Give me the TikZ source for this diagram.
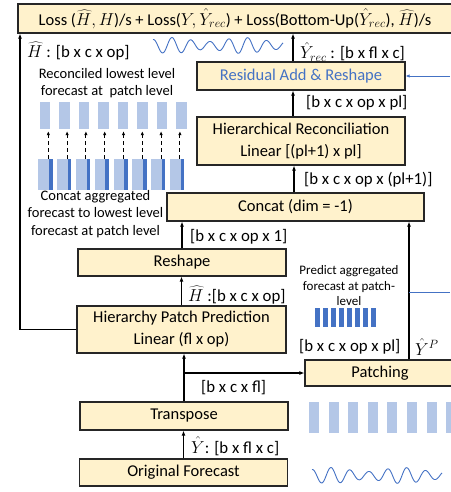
\documentclass[tikz,border=0pt]{standalone}
\usepackage{fontspec}
\setmainfont{Carlito}
\usetikzlibrary{arrows.meta,positioning}
\definecolor{boxfill}{HTML}{FFF2CC}
\definecolor{lightbar}{HTML}{B4C7E7}
\definecolor{darkbar}{HTML}{4472C4}
\newcommand{\hatH}{\ensuremath{\widehat{H}}}
\newcommand{\hatY}{\ensuremath{\hat{Y}}}

\begin{document}
\begin{tikzpicture}[x=1pt,y=-1pt,
  block/.style={rectangle,draw=black!85,fill=boxfill,line width=1.2pt,minimum width=208pt,font=\fontsize{16.5}{22}\selectfont,align=center,inner sep=0pt},
  dims/.style={font=\fontsize{16.8}{19}\selectfont,inner sep=0pt,anchor=west},
  note/.style={font=\fontsize{14.5}{17.5}\selectfont,align=center,inner sep=0pt},
  flow/.style={-{Latex[length=5pt,width=4pt]},line width=1.2pt},
  bar/.style={fill=lightbar,inner sep=0pt}]

  \useasboundingbox (0,0) rectangle (450,492);

  % processing blocks
  \node[block, minimum width=434pt, minimum height=29pt] (loss) at (235,18.5) {Loss (\hatH$,H$)/s + Loss($Y,\hat{Y}_{rec}$) + Loss(Bottom-Up($\hat{Y}_{rec}$), \hatH)/s};
  \node[block, minimum height=28pt, text=darkbar] (resid) at (301,76) {Residual Add \& Reshape};
  \node[block, minimum height=48pt] (recon) at (301,141) {Hierarchical Reconciliation\\Linear [(pl+1) x pl]};
  \node[block, minimum width=257pt, minimum height=28pt] (concat) at (295.5,207) {Concat (dim = -1)};
  \node[block, minimum height=27pt] (reshape) at (182,262.5) {Reshape};
  \node[block, minimum width=209pt, minimum height=47pt] (hpp) at (181.5,329.5) {Hierarchy Patch Prediction\\Linear (fl x op)};
  \node[block, minimum width=150pt, minimum height=26pt] (patch) at (380,373) {Patching};
  \node[block, minimum height=28pt] (transpose) at (184,416) {Transpose};
  \node[block, minimum height=27pt] (orig) at (183.5,472.5) {Original Forecast};

  % tensor shapes
  \node[dims] (hout) at (27,51) {\hatH\ : [b x c x op]};
  \node[dims] (yrec) at (300,52) {$\hat{Y}_{rec}$ : [b x fl x c]};
  \node[dims] (reconout) at (306,103) {[b x c x op x pl]};
  \node[dims] (concatout) at (304,180) {[b x c x op x (pl+1)]};
  \node[dims] (reshapeout) at (190,237) {[b x c x op x 1]};
  \node[dims] (hppout) at (188,295) {\hatH\ :[b x c x op]};
  \node[dims] (patchout) at (299,347) {[b x c x op x pl]};
  \node[dims] (yp) at (415,347) {$\hat{Y}^P$};
  \node[dims] (transout) at (201,388) {[b x c x fl]};
  \node[dims] (origout) at (191,446) {\hatY: [b x fl x c]};

  % notes
  \node[note] (reconnote) at (107,83) {Reconciled lowest level\\forecast at~ patch level};
  \node[note] (concatnote) at (95.5,214) {Concat aggregated\\forecast to lowest level\\forecast at patch level};
  \node[note, font=\fontsize{13}{15.5}\selectfont] (prednote) at (349,286) {Predict aggregated\\forecast at patch-\\level};

  % connectors
  \coordinate (leftrail) at (20,0);
  \coordinate (feedres) at (450,0);
  \coordinate (feedpatch) at (450,292);
  \coordinate (patchup) at ([xshift=29pt]patch.north);
  \draw[flow] (orig.north) -- (orig.north |- transpose.south);
  \draw[flow] (transpose.north) -- (transpose.north |- hpp.south);
  \coordinate (split) at (transpose.north |- patch.west);
  \draw[flow] (split) -- (patch.west);
  \draw[flow] (hpp.north) -- (hpp.north |- reshape.south);
  \draw[flow] (reshape.north) -- (reshape.north |- concat.south);
  \draw[flow] (patchup) -- (patchup |- concat.south);
  \draw[flow] ([xshift=-7pt]recon.south |- concat.north) -- ([xshift=-7pt]recon.south);
  \draw[flow] ([xshift=-8pt]recon.north) -- ([xshift=-8pt]recon.north |- resid.south);
  \draw[flow] ([xshift=-8pt]resid.north) -- ([xshift=-8pt]resid.north |- loss.south);
  \draw[flow] (hpp.west) -| (leftrail |- loss.south);
  \draw[-{Latex[length=4pt,width=3.5pt]}, darkbar, line width=0.8pt] (feedres |- resid.east) -- (resid.east);
  \draw[darkbar, line width=0.8pt] (feedpatch -| patchup) -- (feedpatch);

  % patches
  \foreach \i in {0,...,7} {
    \node[bar, minimum width=10.5pt, minimum height=27pt] (top\i) at (45+19.5*\i,115.5) {};
    \node[bar, minimum width=14pt, minimum height=31pt] (bot\i) at (45.3+18.8*\i,174.5) {};
    \fill[darkbar] (bot\i.north east) rectangle ++(-3.5,31);
    \draw[-{Latex[length=4pt,width=3.5pt]}, line width=1pt, dash pattern=on 4pt off 3pt, shorten >=2pt]
      ([xshift=3pt]bot\i.north) -- ([xshift=3pt]bot\i.north |- top\i.south);
  }
  \foreach \i in {0,...,7}
    \fill[lightbar] (309+19.6*\i,402) rectangle ++(10,31);
  \foreach \i in {0,...,7}
    \fill[darkbar] (315+8*\i,308) rectangle ++(4.5,19);

  % series
  \draw[darkbar, line width=0.9pt] plot[domain=0:130, samples=160, smooth]
    ({153+\x}, {45.5-(6+2*sin(5*\x))*cos(19*\x)});
  \draw[darkbar, line width=0.9pt] plot[domain=0:130, samples=160, smooth]
    ({312+\x}, {475.5-(6+2*sin(5*\x))*cos(19*\x)});
\end{tikzpicture}
\end{document}
